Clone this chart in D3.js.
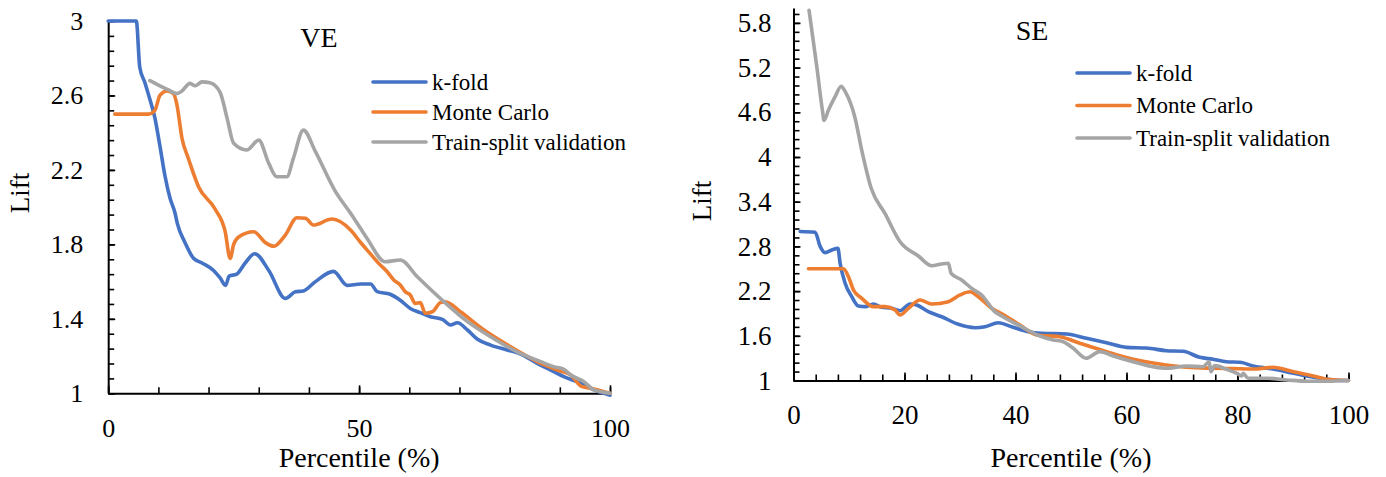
<!DOCTYPE html>
<html>
<head>
<meta charset="utf-8">
<script src="https://cdn.jsdelivr.net/npm/d3@7"></script>
<style>
  html, body { margin: 0; padding: 0; background: #ffffff; }
  svg { display: block; }
  text { font-family: "Liberation Serif", "Times New Roman", serif; fill: #000; }
</style>
</head>
<body>
<script>
// Series names and colours
const seriesNames = ["k-fold", "Monte Carlo", "Train-split validation"];
const seriesColors = ["#4472C4", "#ED7D31", "#A5A5A5"];

// VE panel: [percentile, lift]
const veKfold = [[0,3.0],[5.6,3.0],[6.3,2.75],[7.3,2.67],[8.3,2.58],[9.3,2.48],[10.3,2.33],[11.3,2.17],[12.3,2.05],[13.3,1.97],[13.8,1.91],[15.3,1.81],[17.0,1.725],[18.7,1.70],[21.0,1.66],[22.3,1.62],[23.4,1.58],[24.1,1.63],[25.6,1.64],[27.3,1.70],[29.2,1.75],[32.0,1.66],[35.3,1.51],[37.3,1.545],[38.9,1.55],[41.3,1.60],[44.9,1.655],[47.6,1.58],[50.3,1.587],[52.3,1.587],[53.6,1.546],[56.2,1.532],[58.2,1.50],[60.2,1.456],[62.2,1.433],[64.2,1.411],[66.6,1.397],[68.2,1.367],[69.6,1.379],[71.6,1.34],[73.6,1.29],[76.2,1.259],[79.5,1.233],[82.2,1.211],[85.5,1.161],[88.2,1.125],[90.8,1.089],[94.2,1.054],[96.8,1.018],[100,0.99]];
const veMonteCarlo = [[1.3,2.50],[8.0,2.50],[9.3,2.52],[10.3,2.60],[11.7,2.624],[13.0,2.61],[13.7,2.55],[14.7,2.37],[16.0,2.26],[18.0,2.11],[21.3,1.99],[23.3,1.87],[24.3,1.725],[25.0,1.80],[26.0,1.84],[29.0,1.868],[31.3,1.81],[33.0,1.79],[35.3,1.85],[37.6,1.943],[39.3,1.94],[40.9,1.904],[44.6,1.936],[48.3,1.877],[50.3,1.81],[52.3,1.748],[53.9,1.698],[55.6,1.653],[56.9,1.609],[58.2,1.582],[59.2,1.546],[60.2,1.528],[61.2,1.483],[62.2,1.487],[63.2,1.43],[64.6,1.438],[66.2,1.487],[67.2,1.492],[70.2,1.438],[74.9,1.34],[80.2,1.25],[85.5,1.17],[89.5,1.125],[92.2,1.098],[94.2,1.039],[96.2,1.027],[100,1.0]];
const veTrainSplit = [[8.3,2.68],[10.0,2.656],[12.0,2.63],[13.7,2.61],[14.7,2.624],[16.3,2.665],[17.3,2.652],[18.7,2.673],[20.3,2.668],[22.3,2.617],[23.7,2.477],[25.0,2.343],[27.6,2.307],[30.0,2.36],[32.0,2.235],[33.6,2.163],[35.6,2.163],[36.9,2.262],[38.9,2.414],[41.3,2.298],[45.3,2.083],[48.3,1.967],[50.3,1.885],[51.6,1.832],[55.2,1.707],[58.2,1.716],[61.6,1.626],[66.9,1.492],[71.6,1.385],[76.2,1.304],[81.5,1.223],[86.2,1.17],[88.8,1.143],[90.8,1.129],[92.2,1.098],[94.8,1.062],[96.8,1.018],[100,1.0]];

// SE panel: [percentile, lift]
const seKfold = [[1.2,3.0],[3.9,2.99],[4.8,2.80],[5.7,2.716],[6.9,2.752],[8.0,2.774],[8.4,2.573],[9.3,2.305],[10.5,2.125],[11.7,2.0],[12.9,1.991],[14.4,2.027],[15.9,1.982],[17.7,1.969],[19.2,1.937],[21.0,2.027],[22.2,2.013],[24.3,1.924],[26.7,1.856],[29.7,1.754],[32.7,1.709],[34.5,1.722],[36.9,1.776],[39.3,1.722],[42.3,1.655],[44.7,1.634],[49.2,1.624],[52.8,1.566],[56.4,1.507],[60.0,1.445],[63.6,1.436],[67.2,1.40],[70.2,1.392],[73.2,1.311],[75.6,1.285],[78.0,1.252],[80.5,1.244],[82.8,1.195],[86.4,1.154],[90.1,1.097],[93.7,1.043],[97.3,1.007],[100,1.0]];
const seMonteCarlo = [[2.7,2.5],[9.0,2.5],[9.9,2.393],[10.8,2.215],[12.3,2.103],[14.4,1.991],[16.5,1.991],[18.3,1.946],[19.2,1.879],[20.7,1.969],[22.8,2.081],[24.9,2.027],[27.9,2.058],[30.0,2.148],[31.8,2.192],[33.3,2.125],[35.7,1.969],[37.2,1.91],[40.8,1.745],[43.8,1.611],[48.0,1.588],[51.6,1.499],[56.4,1.387],[61.2,1.285],[66.0,1.221],[70.8,1.177],[75.6,1.164],[79.2,1.159],[82.8,1.154],[86.4,1.177],[90.1,1.118],[93.7,1.06],[96.1,1.016],[100,1.0]];
const seTrainSplit = [[2.8,5.97],[4.2,5.21],[5.2,4.63],[5.5,4.49],[6.3,4.63],[7.5,4.81],[8.6,4.95],[9.3,4.88],[11.1,4.52],[12.3,4.09],[14.0,3.58],[16.5,3.24],[19.2,2.863],[22.5,2.671],[24.9,2.541],[26.7,2.564],[27.9,2.573],[28.4,2.439],[30.3,2.349],[32.1,2.237],[33.9,2.148],[36.3,1.923],[37.2,1.879],[40.8,1.732],[44.4,1.597],[46.8,1.544],[48.6,1.521],[50.4,1.432],[52.7,1.298],[55.2,1.387],[57.6,1.329],[61.2,1.252],[64.8,1.185],[67.2,1.164],[70.8,1.195],[73.8,1.185],[74.9,1.252],[75.2,1.118],[75.9,1.199],[78.0,1.15],[79.9,1.097],[80.8,1.06],[81.0,1.097],[81.9,1.03],[85.3,1.03],[88.9,1.007],[92.5,0.99],[96.1,0.99],[100,1.0]];

// Axis tick labels
const veXTicks = [0, 50, 100];
const veYTicks = [1, 1.4, 1.8, 2.2, 2.6, 3];
const seXTicks = [0, 20, 40, 60, 80, 100];
const seYTicks = [1, 1.6, 2.2, 2.8, 3.4, 4, 4.6, 5.2, 5.8];

const svg = d3.select("body").append("svg")
  .attr("width", 1386).attr("height", 477);

function drawPanel(p) {
  const x = d3.scaleLinear().domain([0, 100]).range([p.left, p.right]);
  const y = d3.scaleLinear().domain(p.yDomain).range([p.bottom, p.top]);
  const g = svg.append("g");

  // minor ticks (no labels)
  g.append("g").attr("transform", `translate(0,${p.bottom})`)
    .call(d3.axisBottom(x).tickValues(p.xMinor).tickSizeInner(-6).tickSizeOuter(0).tickFormat(""))
    .call(a => a.select(".domain").remove());
  g.append("g").attr("transform", `translate(${p.left},0)`)
    .call(d3.axisLeft(y).tickValues(p.yMinor).tickSizeInner(-6).tickSizeOuter(0).tickFormat(""))
    .call(a => a.select(".domain").remove());

  // major ticks with labels
  const xa = g.append("g").attr("transform", `translate(0,${p.bottom})`)
    .call(d3.axisBottom(x).tickValues(p.xTicks).tickSizeInner(-8).tickSizeOuter(0)
      .tickPadding(p.xPad).tickFormat(d => String(d)));
  const ya = g.append("g").attr("transform", `translate(${p.left},0)`)
    .call(d3.axisLeft(y).tickValues(p.yTicks).tickSizeInner(-7).tickSizeOuter(0)
      .tickPadding(p.yPad).tickFormat(d => String(d)));

  [xa, ya].forEach(a => {
    a.selectAll("text").style("font-family", '"Liberation Serif", "Times New Roman", serif')
      .style("font-size", p.tickFont + "px").attr("fill", "#000");
  });
  g.selectAll(".tick line").attr("stroke", "#000").attr("stroke-width", 1.6);
  g.selectAll(".domain").attr("stroke", "#000").attr("stroke-width", 2);

  // series lines
  const line = d3.line().x(d => x(d[0])).y(d => y(d[1])).curve(d3.curveMonotoneX);
  p.series.forEach((s, i) => {
    g.append("path").datum(s)
      .attr("fill", "none")
      .attr("stroke", seriesColors[i])
      .attr("stroke-width", 3.6)
      .attr("stroke-linejoin", "round")
      .attr("stroke-linecap", "round")
      .attr("d", line);
  });

  // panel title
  g.append("text").attr("x", p.titleX).attr("y", p.titleY)
    .attr("text-anchor", "middle").style("font-size", "28px").text(p.title);

  // axis titles
  g.append("text").attr("x", (p.left + p.right) / 2).attr("y", 467)
    .attr("text-anchor", "middle").style("font-size", "28px").text("Percentile (%)");
  g.append("text")
    .attr("transform", `translate(${p.liftX},${p.liftY}) rotate(-90)`)
    .attr("text-anchor", "middle").style("font-size", "27px").text("Lift");

  // legend
  const lg = g.append("g");
  seriesNames.forEach((name, i) => {
    const yy = p.legY + i * p.legStep;
    lg.append("line").attr("x1", p.legX).attr("x2", p.legX + 53)
      .attr("y1", yy).attr("y2", yy)
      .attr("stroke", seriesColors[i]).attr("stroke-width", 3.6).attr("stroke-linecap", "round");
    lg.append("text").attr("x", p.legX + 59).attr("y", yy + 7.5)
      .style("font-size", "23px").text(name);
  });
}

drawPanel({
  left: 108.2, right: 610, top: 21, bottom: 393.3,
  yDomain: [1, 3],
  xTicks: veXTicks, yTicks: veYTicks,
  xMinor: d3.range(0, 101, 10),
  yMinor: d3.range(0, 26).map(i => 1 + i * 0.08),
  xPad: 25, yPad: 25, tickFont: 26,
  series: [veKfold, veMonteCarlo, veTrainSplit],
  title: "VE", titleX: 319, titleY: 47,
  liftX: 29, liftY: 193,
  legX: 373, legY: 82, legStep: 30
});

drawPanel({
  left: 793.5, right: 1348.5, top: 8, bottom: 380.5,
  yDomain: [1, 6],
  xTicks: seXTicks, yTicks: seYTicks,
  xMinor: d3.range(0, 101, 4),
  yMinor: d3.range(0, 42).map(i => 1 + i * 0.12),
  xPad: 24, yPad: 22, tickFont: 27,
  series: [seKfold, seMonteCarlo, seTrainSplit],
  title: "SE", titleX: 1032, titleY: 40,
  liftX: 711, liftY: 201,
  legX: 1077, legY: 73, legStep: 32.5
});
</script>
</body>
</html>
